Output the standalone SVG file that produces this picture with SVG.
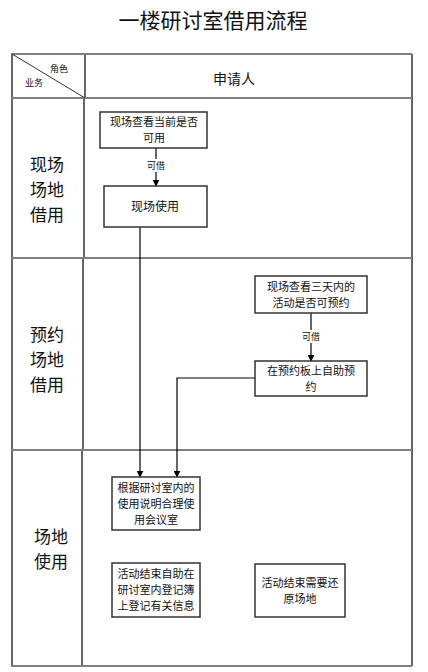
<svg xmlns="http://www.w3.org/2000/svg" width="428" height="672" viewBox="0 0 428 672">
<defs>
<style>
text{font-family:"Noto Sans CJK SC","Noto Sans",sans-serif;fill:#111;text-anchor:middle;}
.hl{stroke:#808080;stroke-width:2;}
.vl{stroke:#000;stroke-width:1.2;}
.box{fill:#fff;stroke:#333;stroke-width:1.5;}
.bt{font-size:11px;}
.lane{font-size:17px;}
.lbl{font-size:9px;}
.con{fill:none;stroke:#000;stroke-width:1.2;}
</style>
<marker id="ah" viewBox="0 0 10 10" refX="9" refY="5" markerWidth="7" markerHeight="7" markerUnits="userSpaceOnUse" orient="auto">
<path d="M0,0 L10,5 L0,10 z" fill="#000"/>
</marker>
</defs>
<rect width="428" height="672" fill="#fff"/>
<text x="213" y="28" style="font-size:21px">一楼研讨室借用流程</text>

<g id="table">
<line class="vl" x1="12" y1="54" x2="12" y2="666"/>
<line class="vl" x1="412" y1="54" x2="412" y2="666"/>
<line class="vl" x1="85" y1="54" x2="85" y2="98"/>
<line class="vl" x1="84" y1="98" x2="84" y2="258"/>
<line class="vl" x1="83" y1="258" x2="83" y2="450"/>
<line class="vl" x1="82" y1="450" x2="82" y2="666"/>
<line class="hl" x1="11" y1="54" x2="412" y2="54"/>
<line class="hl" x1="11" y1="98" x2="412" y2="98"/>
<line class="hl" x1="11" y1="258" x2="412" y2="258"/>
<line class="hl" x1="11" y1="450" x2="412" y2="450"/>
<line class="hl" x1="11" y1="666" x2="412" y2="666"/>
<line stroke="#333" stroke-width="1" x1="12" y1="54" x2="85" y2="98"/>
<text x="59" y="72" style="font-size:9px">角色</text>
<text x="34" y="86" style="font-size:9px">业务</text>
<text x="234" y="84" style="font-size:14px">申请人</text>
</g>

<g id="lane1"><text class="lane" x="47" y="170.5">现场<tspan x="47" dy="25">场地</tspan><tspan x="47" dy="25">借用</tspan></text></g>
<g id="lane2"><text class="lane" x="47" y="340.5">预约<tspan x="47" dy="25">场地</tspan><tspan x="47" dy="25">借用</tspan></text></g>
<g id="lane3"><text class="lane" x="51" y="542.5">场地<tspan x="51" dy="25">使用</tspan></text></g>

<g id="connectors">
<line class="con" x1="156" y1="148" x2="156" y2="186" marker-end="url(#ah)"/>
<rect x="145" y="159" width="22" height="13" fill="#fff"/>
<text class="lbl" x="156" y="169">可借</text>
<line class="con" x1="311" y1="313" x2="311" y2="361" marker-end="url(#ah)"/>
<rect x="300" y="330" width="22" height="13" fill="#fff"/>
<text class="lbl" x="311" y="340">可借</text>
<line class="con" x1="140" y1="227" x2="140" y2="477" marker-end="url(#ah)"/>
<polyline class="con" points="255,378 177,378 177,477" marker-end="url(#ah)"/>
</g>

<g id="n1"><rect class="box" x="100" y="112" width="107" height="36"/><text class="bt" x="154" y="126">现场查看当前是否<tspan x="154" dy="16">可用</tspan></text></g>
<g id="n2"><rect class="box" x="104" y="186" width="103" height="41"/><text class="bt" x="155" y="211" style="font-size:12px">现场使用</text></g>
<g id="n3"><rect class="box" x="255" y="276" width="112" height="37"/><text class="bt" x="311" y="291">现场查看三天内的<tspan x="311" dy="16">活动是否可预约</tspan></text></g>
<g id="n4"><rect class="box" x="255" y="361" width="112" height="35"/><text class="bt" x="311" y="375">在预约板上自助预<tspan x="311" dy="16">约</tspan></text></g>
<g id="n5"><rect class="box" x="112" y="477" width="88" height="53"/><text class="bt" x="156" y="492">根据研讨室内的<tspan x="156" dy="16">使用说明合理使</tspan><tspan x="156" dy="16">用会议室</tspan></text></g>
<g id="n6"><rect class="box" x="112" y="563" width="88" height="54"/><text class="bt" x="156" y="578">活动结束自助在<tspan x="156" dy="16">研讨室内登记簿</tspan><tspan x="156" dy="16">上登记有关信息</tspan></text></g>
<g id="n7"><rect class="box" x="255" y="564" width="90" height="53"/><text class="bt" x="300" y="587">活动结束需要还<tspan x="300" dy="16">原场地</tspan></text></g>
</svg>
